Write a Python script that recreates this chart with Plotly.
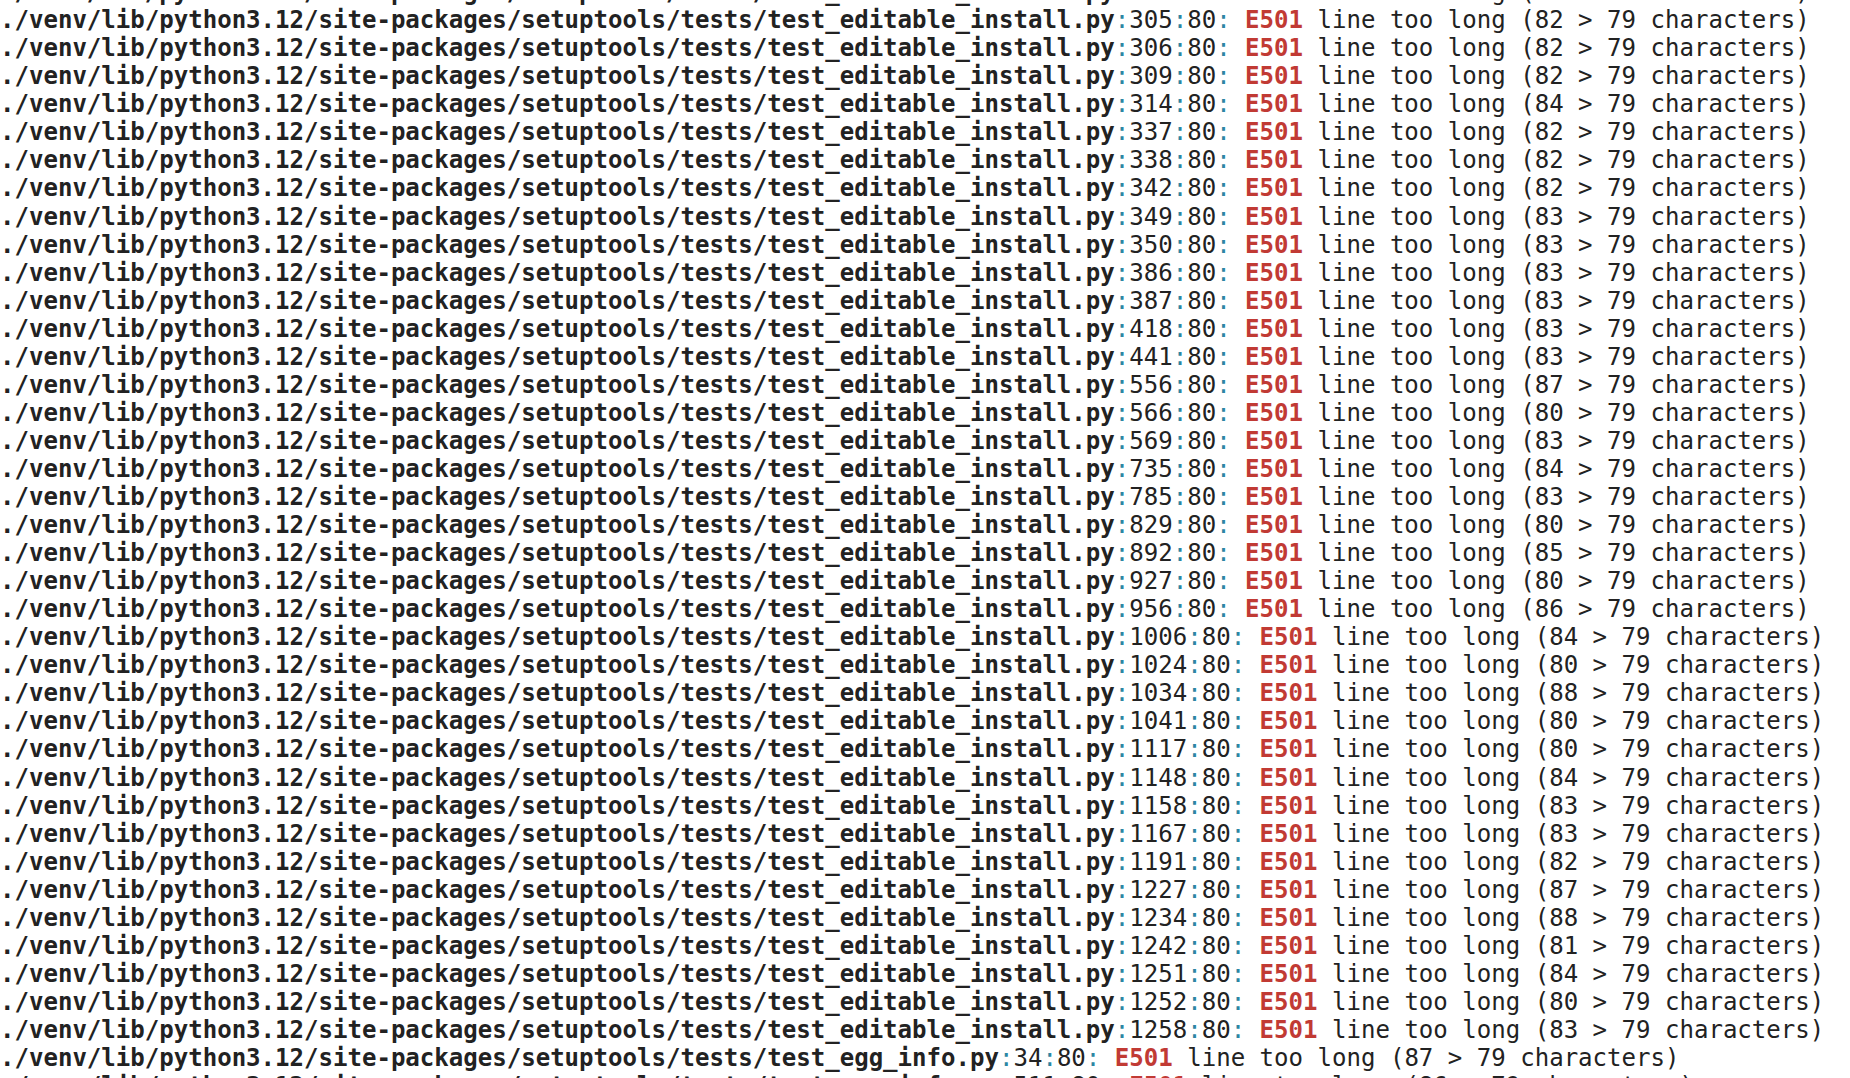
import plotly.graph_objects as go

# ---- data ----
files = (["./venv/lib/python3.12/site-packages/setuptools/tests/test_editable_install.py"] * 38
         + ["./venv/lib/python3.12/site-packages/setuptools/tests/test_egg_info.py"] * 2)
line_numbers = [302, 305, 306, 309, 314, 337, 338, 342, 349, 350, 386, 387, 418, 441,
                556, 566, 569, 735, 785, 829, 892, 927, 956, 1006, 1024, 1034, 1041,
                1117, 1148, 1158, 1167, 1191, 1227, 1234, 1242, 1251, 1252, 1258,
                34, 511]
columns = [80] * 40
codes = ["E501"] * 40
line_lengths = [82, 82, 82, 82, 84, 82, 82, 82, 83, 83, 83, 83, 83, 83,
                87, 80, 83, 84, 83, 80, 85, 80, 86, 84, 80, 88, 80,
                80, 84, 83, 83, 82, 87, 88, 81, 84, 80, 83,
                87, 86]
max_length = 79
row_index = list(range(-1, len(files) - 1))

# ---- styling ----
FONT = "DejaVu Sans Mono"
TEXT = "#222222"
SEP = "#2c86a3"
RED = "#c13a34"


def sep(s):
    return f"<span style='color:{SEP}'>{s}</span>"


texts = []
for f, ln, col, code, L in zip(files, line_numbers, columns, codes, line_lengths):
    t = (f"<b>{f}</b>{sep(':')}{ln}{sep(':')}{col}{sep(':')} "
         f"<span style='color:{RED}'><b>{code}</b></span> "
         f"line too long ({L} &gt; {max_length} characters)")
    texts.append(t)

fig = go.Figure(go.Scatter(
    x=[0] * len(texts),
    y=row_index,
    mode="text",
    text=texts,
    textposition="middle right",
    textfont=dict(family=FONT, size=24.05, color=TEXT),
    hoverinfo="skip",
    cliponaxis=True,
))

fig.update_layout(
    width=1850, height=1078,
    margin=dict(l=0, r=0, t=0, b=0),
    paper_bgcolor="white", plot_bgcolor="white",
    showlegend=False,
    xaxis=dict(range=[0, 1850], visible=False, fixedrange=True),
    yaxis=dict(range=[37.64, -0.79], visible=False, fixedrange=True),
)

fig.write_html("out.html", config={"displayModeBar": False},
               post_script="document.body.style.margin='0px';document.body.style.overflow='hidden';")
